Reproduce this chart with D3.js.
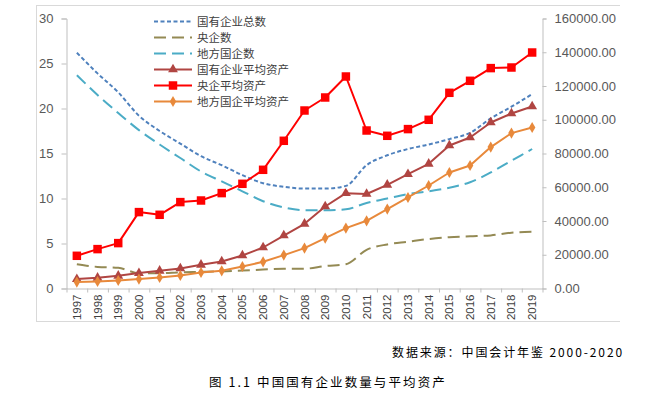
<!DOCTYPE html>
<html><head><meta charset="utf-8">
<script src="https://cdn.jsdelivr.net/npm/d3@7/dist/d3.min.js"></script>
<style>
body{margin:0;background:#fff;}
svg{display:block;}
</style></head>
<body>
<svg id="chart" width="665" height="410"></svg>
<script>
const years = ["1997","1998","1999","2000","2001","2002","2003","2004","2005","2006","2007","2008","2009","2010","2011","2012","2013","2014","2015","2016","2017","2018","2019"];
// left axis series (counts)
const soeTotal = [26.2,23.9,21.8,19.2,17.5,16.1,14.7,13.7,12.6,11.7,11.3,11.1,11.1,11.4,13.7,14.8,15.5,16.0,16.6,17.3,18.9,20.2,21.6];
const centralCount = [2.7,2.4,2.3,1.7,1.7,1.8,1.85,1.9,2.0,2.1,2.2,2.2,2.5,2.7,4.3,4.9,5.2,5.5,5.7,5.8,5.9,6.2,6.3];
const localCount = [23.7,21.5,19.5,17.6,16.0,14.5,13.0,11.9,10.8,9.7,9.0,8.7,8.7,8.8,9.5,10.0,10.5,10.8,11.2,11.8,12.9,14.2,15.5];
// right axis series (average assets)
const soeAvgAssets = [5570,6340,7530,9130,10490,11850,14040,16000,19560,24300,31400,38340,48600,56500,56000,61450,67790,73900,84740,89480,98370,103700,107850];
const centralAvgAssets = [19380,23340,26900,45270,43680,51200,52150,56530,62040,70340,87530,105480,113190,125630,93630,90490,94460,99970,115970,123080,130600,130960,139850];
const localAvgAssets = [3790,4150,4740,5570,6520,7700,9480,10490,13040,15820,19790,23940,29870,35790,40120,47050,53930,61040,68740,72890,83790,92090,95410];
const leftTicks = [0,5,10,15,20,25,30];
const rightTicks = [0,20000,40000,60000,80000,100000,120000,140000,160000];
const seriesNames = ["国有企业总数","央企数","地方国企数","国有企业平均资产","央企平均资产","地方国企平均资产"];
const sourceText = "数据来源：中国会计年鉴 2000-2020";
const captionText = "图 1.1 中国国有企业数量与平均资产";

const svg = d3.select("#chart");
const L = 66.5, R = 542.5, T = 18.5, B = 288.5;
const x = d3.scaleBand().domain(years).range([L, R]);
const xb = d3.scaleLinear().domain([0, years.length]).range([L, R]);
const yL = d3.scaleLinear().domain([0, 30]).range([B, T]);
const yR = d3.scaleLinear().domain([0, 160000]).range([B, T]);
const cx = d => x(d) + x.bandwidth() / 2;

// frame
const frame = svg.append("g").attr("stroke", "#D9D9D9").attr("stroke-width", 1).attr("fill", "none");
frame.append("line").attr("x1", 36).attr("x2", 620).attr("y1", 5.5).attr("y2", 5.5);
frame.append("line").attr("x1", 36).attr("x2", 620).attr("y1", 321.5).attr("y2", 321.5);
frame.append("line").attr("x1", 36.5).attr("x2", 36.5).attr("y1", 5).attr("y2", 322);

const axisFont = "'Liberation Sans', Arial, sans-serif";
function styleAxis(g) {
  g.selectAll("path.domain").attr("stroke", "#BFBFBF");
  g.selectAll(".tick line").attr("stroke", "#BFBFBF");
  g.selectAll("text").attr("fill", "#595959").attr("font-family", axisFont);
}
// left axis
const gl = svg.append("g").attr("transform", `translate(${L},0)`)
  .call(d3.axisLeft(yL).tickValues(leftTicks).tickSize(5).tickSizeOuter(5).tickPadding(8));
gl.attr("font-size", 13); styleAxis(gl);
// right axis
const gr = svg.append("g").attr("transform", `translate(${R},0)`)
  .call(d3.axisRight(yR).tickValues(rightTicks).tickFormat(d3.format(".2f")).tickSize(4).tickSizeOuter(4).tickPadding(8));
gr.attr("font-size", 13); styleAxis(gr);
// bottom axis: boundary ticks
const gb = svg.append("g").attr("transform", `translate(0,${B})`)
  .call(d3.axisBottom(xb).tickValues(d3.range(years.length + 1)).tickFormat("").tickSize(4).tickSizeOuter(0));
styleAxis(gb);
// bottom labels
const gbl = svg.append("g").attr("transform", `translate(0,${B})`)
  .call(d3.axisBottom(x).tickSize(0).tickPadding(0));
gbl.select("path.domain").remove();
gbl.selectAll("text").attr("fill", "#404040").attr("font-family", axisFont).attr("font-size", 11.5)
  .attr("transform", "rotate(-90)").attr("text-anchor", "end").attr("x", -6).attr("y", 0).attr("dy", "0.35em");

// series definitions
const defs = [
  {name: seriesNames[0], data: soeTotal, y: yL, color: "#4F81BD", dash: "4,2.5", marker: null, smooth: true},
  {name: seriesNames[1], data: centralCount, y: yL, color: "#948A54", dash: "12,6", marker: null, smooth: true},
  {name: seriesNames[2], data: localCount, y: yL, color: "#4BACC6", dash: "12,6", marker: null, smooth: true},
  {name: seriesNames[3], data: soeAvgAssets, y: yR, color: "#B04542", dash: null, marker: "triangle"},
  {name: seriesNames[5], data: localAvgAssets, y: yR, color: "#E8893B", dash: null, marker: "diamond"},
  {name: seriesNames[4], data: centralAvgAssets, y: yR, color: "#FF0000", dash: null, marker: "square"},
];
const symSize = {triangle: 42, diamond: 36, square: 72};
const symType = {triangle: d3.symbolTriangle, diamond: d3.symbolDiamond, square: d3.symbolSquare};

defs.forEach(s => {
  const line = d3.line().x((d, i) => cx(years[i])).y(d => s.y(d))
    .curve(s.smooth ? d3.curveMonotoneX : d3.curveLinear);
  svg.append("path").datum(s.data).attr("d", line).attr("fill", "none")
    .attr("stroke", s.color).attr("stroke-width", 2)
    .attr("stroke-dasharray", s.dash).attr("stroke-linejoin", "round");
  if (s.marker) {
    svg.append("g").selectAll("path").data(s.data).join("path")
      .attr("transform", (d, i) => `translate(${cx(years[i])},${s.y(d)})`)
      .attr("d", d3.symbol().type(symType[s.marker]).size(symSize[s.marker]))
      .attr("fill", s.color);
  }
});

// legend
const legendOrder = [0, 1, 2, 3, 5, 4];
const lg = svg.append("g").attr("transform", "translate(154,0)");
const legendY = d3.scalePoint().domain(d3.range(6)).range([21.5, 101.5]);
legendOrder.forEach((di, k) => {
  const s = defs[di];
  const yy = legendY(k);
  lg.append("line").attr("x1", 0).attr("x2", 38).attr("y1", yy).attr("y2", yy)
    .attr("stroke", s.color).attr("stroke-width", 2).attr("stroke-dasharray", s.dash);
  if (s.marker) {
    lg.append("path").attr("transform", `translate(19,${yy})`)
      .attr("d", d3.symbol().type(symType[s.marker]).size(symSize[s.marker]))
      .attr("fill", s.color);
  }
  lg.append("text").attr("x", 43).attr("y", yy).attr("dy", "0.36em")
    .attr("font-family", "'Noto Sans CJK SC', sans-serif").attr("font-size", 11.5)
    .attr("fill", "#404040").text(s.name);
});

// source and caption
svg.append("text").attr("x", 392).attr("y", 356.5)
  .attr("font-family", "'Noto Sans CJK SC', sans-serif").attr("font-size", 12)
  .attr("letter-spacing", 1.9).attr("fill", "#000").text(sourceText);
svg.append("text").attr("x", 209).attr("y", 386.5)
  .attr("font-family", "'Noto Sans CJK SC', sans-serif").attr("font-size", 12.5)
  .attr("letter-spacing", 2.1).attr("fill", "#000").text(captionText);
</script>
</body></html>
